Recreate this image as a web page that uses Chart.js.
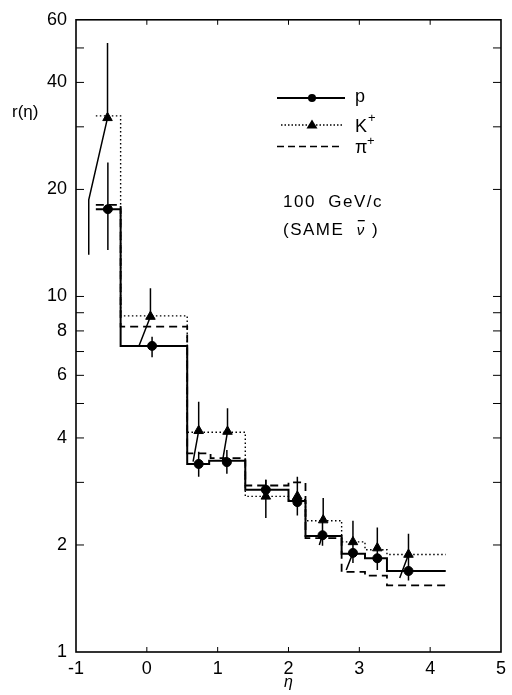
<!DOCTYPE html>
<html>
<head>
<meta charset="utf-8">
<script src="https://cdn.jsdelivr.net/npm/chart.js@4/dist/chart.umd.min.js"></script>
<style>
    html, body { margin: 0; padding: 0; background: #fff; }
    #wrap { width: 512px; height: 695px; position: relative; }
</style>
</head>
<body>
<div id="wrap"><canvas id="chart-r"></canvas></div>
<script>
// Histogram bin edges (eta) and levels r(eta) for each particle
const pEdges = [-0.72, -0.37, 0.57, 0.88, 1.39, 2.0, 2.24, 2.75, 3.08, 3.39, 4.22];
const pLevels = [17.6, 7.26, 3.38, 3.45, 2.86, 2.66, 2.12, 1.89, 1.835, 1.69];
const kEdges = [-0.72, -0.37, 0.57, 1.39, 2.0, 2.24, 2.75, 3.08, 3.39, 4.22];
const kLevels = [32.2, 8.82, 4.15, 2.74, 2.68, 2.34, 2.04, 1.94, 1.88];
const piEdges = [-0.72, -0.37, 0.57, 0.9, 1.39, 2.0, 2.24, 2.75, 3.08, 3.39, 4.22];
const piLevels = [18.1, 8.23, 3.62, 3.51, 2.94, 3.0, 2.09, 1.68, 1.64, 1.54];

// Measured points with error bars
const pEta = [-0.55, 0.074, 0.732, 1.13, 1.68, 2.125, 2.48, 2.91, 3.254, 3.694];
const pVal = [17.6, 7.26, 3.38, 3.42, 2.86, 2.64, 2.13, 1.90, 1.835, 1.69];
const pLo = [13.5, 6.75, 3.11, 3.17, 2.70, 2.42, 1.99, 1.78, 1.70, 1.59];
const pHi = [23.8, 7.70, 3.66, 3.70, 3.05, 2.74, 2.35, 2.04, 1.96, 1.88];

const kEta = [-0.555, 0.051, 0.732, 1.139, 1.68, 2.125, 2.49, 2.91, 3.254, 3.694];
const kVal = [31.8, 8.78, 4.19, 4.17, 2.74, 2.74, 2.35, 2.04, 1.96, 1.88];
const kLo = [31.8, 8.78, 4.19, 4.17, 2.38, 2.74, 2.35, 2.04, 1.96, 1.88];
const kHi = [51.6, 10.55, 5.06, 4.85, 3.05, 3.11, 2.71, 2.34, 2.24, 2.15];

// Leader lines from displaced markers to true positions
const leadEta = [[-0.82, -0.82, -0.555], [-0.111, 0.051], [0.653, 0.732], [1.069, 1.139], [2.435, 2.48], [2.815, 2.91], [3.57, 3.694]];
const leadVal = [[13.1, 18.7, 31.8], [7.26, 8.78], [3.43, 4.19], [3.45, 4.17], [2.0, 2.13], [1.70, 1.90], [1.615, 1.88]];

// Axis ticks
const xTicks = [-1, 0, 1, 2, 3, 4, 5];
const xInnerTicks = [0, 1, 2, 3, 4];
const yTicks = [1, 2, 4, 6, 8, 10, 20, 40, 60];
const yMinorTicks = [3, 5, 7, 9, 30, 50];

const FONT = "'Liberation Sans', Arial, sans-serif";

function stepData(edges, levels) {
    const d = levels.map((v, i) => ({ x: edges[i], y: v }));
    d.push({ x: edges[edges.length - 1], y: levels[levels.length - 1] });
    return d;
}

function errData(xs, lo, hi) {
    const d = [];
    xs.forEach((x, i) => {
        d.push({ x: x, y: lo[i] }, { x: x, y: hi[i] }, { x: x, y: null });
    });
    return d;
}

function leadData(xs, ys) {
    const d = [];
    xs.forEach((row, i) => {
        row.forEach((x, j) => d.push({ x: x, y: ys[i][j] }));
        d.push({ x: row[row.length - 1], y: null });
    });
    return d;
}

// Frame, inward ticks, legend and annotations
const decorPlugin = {
    id: 'decor',
    afterDraw(chart) {
        const ctx = chart.ctx;
        const a = chart.chartArea;
        const xs = chart.scales.x, ys = chart.scales.y;
        ctx.save();
        ctx.strokeStyle = '#000';
        ctx.lineWidth = 1.6;
        ctx.strokeRect(a.left, a.top, a.right - a.left, a.bottom - a.top);

        ctx.lineWidth = 1;
        ctx.beginPath();
        xInnerTicks.forEach(v => {
            const px = xs.getPixelForValue(v);
            ctx.moveTo(px, a.bottom); ctx.lineTo(px, a.bottom - 5);
            ctx.moveTo(px, a.top); ctx.lineTo(px, a.top + 5);
        });
        yTicks.concat(yMinorTicks).forEach(v => {
            const py = ys.getPixelForValue(v);
            if (py <= a.top + 1 || py >= a.bottom - 1) return;
            ctx.moveTo(a.left, py); ctx.lineTo(a.left + 8, py);
            ctx.moveTo(a.right, py); ctx.lineTo(a.right - 8, py);
        });
        ctx.stroke();

        // legend
        ctx.lineWidth = 1.8;
        ctx.beginPath(); ctx.moveTo(277, 98); ctx.lineTo(345, 98); ctx.stroke();
        ctx.beginPath(); ctx.arc(312, 98, 4, 0, Math.PI * 2); ctx.fillStyle = '#000'; ctx.fill();
        ctx.lineWidth = 1.3;
        ctx.setLineDash([1.5, 2]);
        ctx.beginPath(); ctx.moveTo(281, 125); ctx.lineTo(343, 125); ctx.stroke();
        ctx.setLineDash([7, 4]);
        ctx.lineWidth = 1.6;
        ctx.beginPath(); ctx.moveTo(277, 146.5); ctx.lineTo(343, 146.5); ctx.stroke();
        ctx.setLineDash([]);
        ctx.beginPath();
        ctx.moveTo(312, 119.5); ctx.lineTo(317.5, 128.5); ctx.lineTo(306.5, 128.5); ctx.closePath();
        ctx.fill();

        ctx.fillStyle = '#000';
        ctx.textBaseline = 'middle';
        ctx.textAlign = 'left';
        ctx.font = '18px ' + FONT;
        ctx.fillText('p', 355, 97);
        ctx.fillText('K', 355, 127);
        ctx.fillText('\u03c0', 355, 148);
        ctx.font = '13px ' + FONT;
        ctx.fillText('+', 368, 118);
        ctx.fillText('+', 367, 141);

        ctx.font = '17px ' + FONT;
        ctx.letterSpacing = '1.5px';
        ctx.fillText('100  GeV/c', 283, 202);
        const head = '(SAME  ';
        ctx.fillText(head, 283, 230);
        const nx = 283 + ctx.measureText(head).width;
        ctx.font = 'italic 15px ' + FONT;
        ctx.fillText('\u03bd', nx, 231);
        const nw = ctx.measureText('\u03bd').width;
        ctx.fillRect(nx + 1, 220, nw - 2, 1.3);
        ctx.font = '17px ' + FONT;
        ctx.fillText(' )', nx + nw, 230);
        ctx.letterSpacing = '0px';

        ctx.fillText('r(\u03b7)', 12, 112);
        ctx.restore();
    }
};

let chart;
function initializeChart() {
    const el = document.getElementById('chart-r');
    chart = new Chart(el, {
        type: 'line',
        data: {
            datasets: [
                { label: 'p', data: pEta.map((x, i) => ({ x: x, y: pVal[i] })), showLine: false,
                  pointStyle: 'circle', pointRadius: 4.5, backgroundColor: '#000', borderColor: '#000', order: 0 },
                { label: 'K+', data: kEta.map((x, i) => ({ x: x, y: kVal[i] })), showLine: false,
                  pointStyle: 'triangle', pointRadius: 5.5, backgroundColor: '#000', borderColor: '#000', order: 0 },
                { label: 'p err', data: errData(pEta, pLo, pHi), borderColor: '#000', borderWidth: 1.5,
                  pointRadius: 0, spanGaps: false, order: 1 },
                { label: 'K err', data: errData(kEta, kLo, kHi), borderColor: '#000', borderWidth: 1.5,
                  pointRadius: 0, spanGaps: false, order: 1 },
                { label: 'leaders', data: leadData(leadEta, leadVal), borderColor: '#000', borderWidth: 1.5,
                  pointRadius: 0, spanGaps: false, order: 1 },
                { label: 'p hist', data: stepData(pEdges, pLevels), stepped: 'before', borderColor: '#000',
                  borderWidth: 2, pointRadius: 0, order: 2 },
                { label: 'K hist', data: stepData(kEdges, kLevels), stepped: 'before', borderColor: '#000',
                  borderWidth: 1.4, borderDash: [1.5, 2.5], pointRadius: 0, order: 2 },
                { label: 'pi hist', data: stepData(piEdges, piLevels), stepped: 'before', borderColor: '#000',
                  borderWidth: 1.8, borderDash: [8, 5], pointRadius: 0, order: 2 }
            ]
        },
        options: {
            responsive: true,
            maintainAspectRatio: false,
            animation: false,
            layout: { padding: { top: 19, right: 4, left: 0, bottom: 0 } },
            plugins: { legend: { display: false }, tooltip: { enabled: false } },
            scales: {
                x: {
                    type: 'linear', min: -1, max: 5,
                    afterBuildTicks: s => { s.ticks = xTicks.map(v => ({ value: v })); },
                    afterFit: s => { s.height = 43; },
                    grid: { display: false, drawTicks: false },
                    border: { display: false },
                    ticks: { color: '#000', padding: 6, font: { family: FONT, size: 18 } },
                    title: { display: true, text: '\u03b7', color: '#000', padding: { top: 0, bottom: 3 },
                             font: { family: FONT, size: 16, style: 'italic' } }
                },
                y: {
                    type: 'logarithmic', min: 1, max: 60,
                    afterBuildTicks: s => { s.ticks = yTicks.map(v => ({ value: v })); },
                    afterFit: s => { s.width = 76; },
                    grid: { display: false, drawTicks: false },
                    border: { display: false },
                    ticks: { color: '#000', padding: 9, font: { family: FONT, size: 18 },
                             callback: v => String(v) }
                }
            }
        },
        plugins: [decorPlugin]
    });
}

document.addEventListener('DOMContentLoaded', initializeChart);
</script>
</body>
</html>
